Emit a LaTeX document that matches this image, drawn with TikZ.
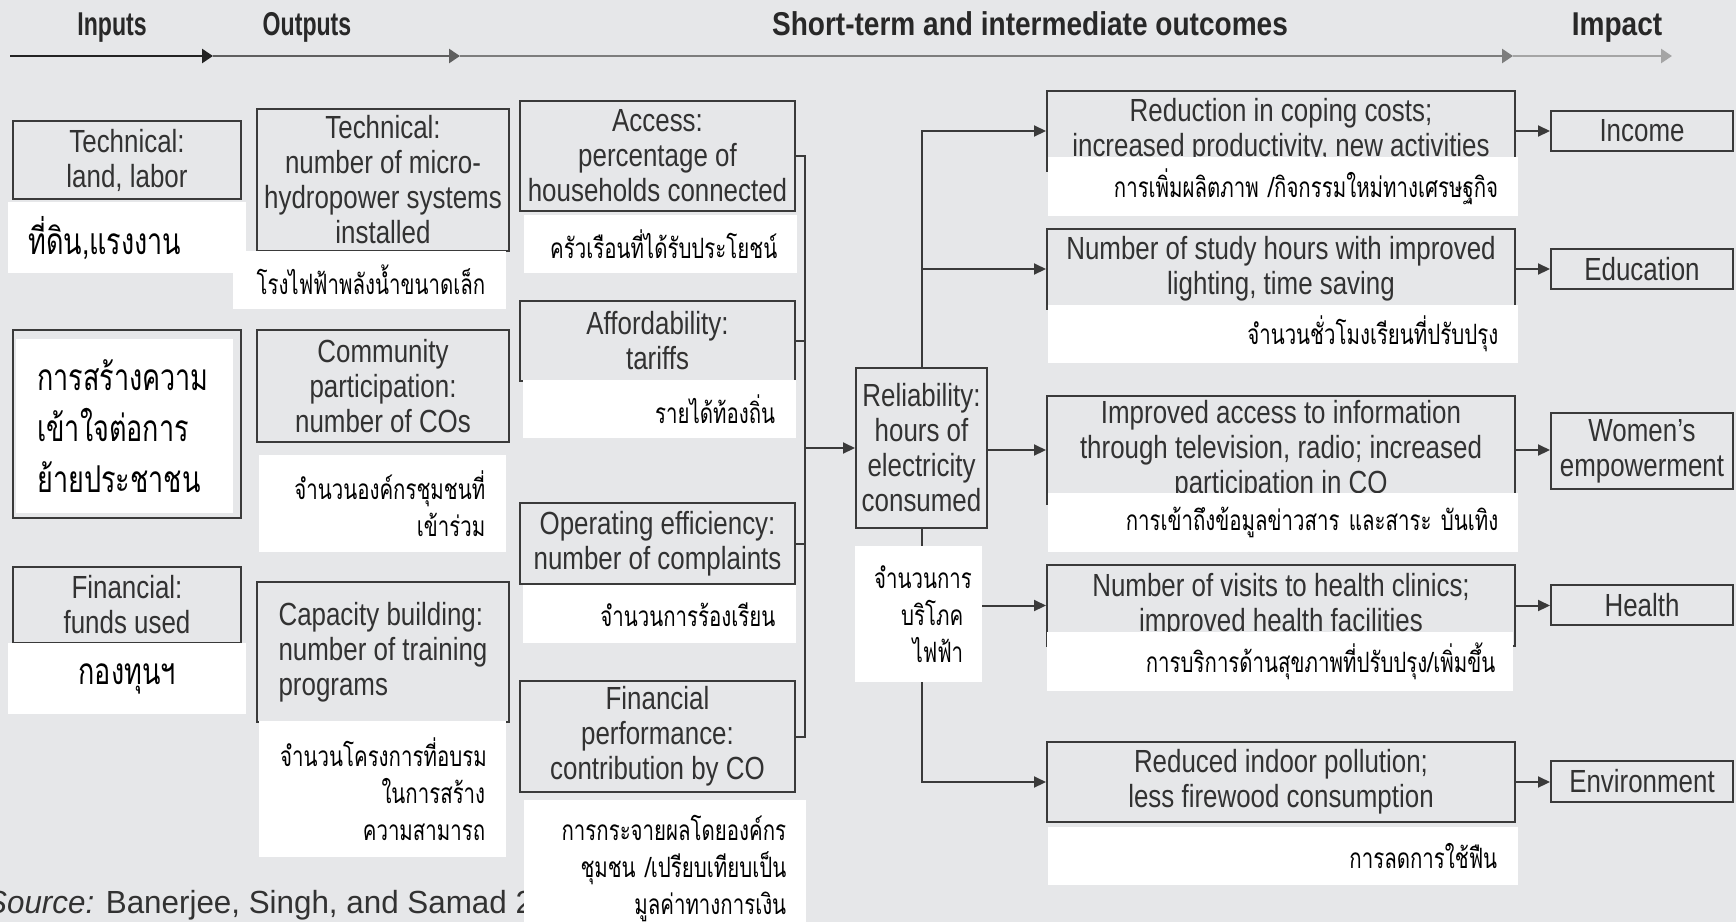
\documentclass[tikz,border=0pt]{standalone}
\usepackage{fontspec}
\usetikzlibrary{arrows.meta}
\setmainfont{Liberation Sans}[FakeStretch=0.81]
\newfontfamily\hdfont{Liberation Sans}[FakeStretch=0.85]
\newfontfamily\hdnarrow{Liberation Sans}[FakeStretch=0.70]
\newfontfamily\srcfont{Liberation Sans}[FakeStretch=0.98]
\newfontfamily\thai{Loma}[Script=Thai,FakeStretch=0.73]
\definecolor{bg}{RGB}{230,231,233}
\definecolor{bx}{RGB}{58,58,58}
\definecolor{tx}{RGB}{50,50,50}
\definecolor{hc}{RGB}{40,40,40}
\definecolor{a1c}{RGB}{35,35,35}
\definecolor{a2c}{RGB}{95,95,95}
\definecolor{a3c}{RGB}{125,125,125}
\definecolor{a4c}{RGB}{165,165,165}
\tikzset{
  hd/.style={font=\hdfont\bfseries\fontsize{33}{35}\selectfont, text=hc, inner sep=0pt, anchor=base},
  hdn/.style={hd, font=\hdnarrow\bfseries\fontsize{33}{35}\selectfont},
  hline/.style={line width=2.6pt, -{Triangle[length=11pt,width=14pt]}},
  box/.style={draw=bx, line width=2pt, inner sep=0pt, align=center, text=tx,
    font=\fontsize{32}{35}\selectfont, anchor=north west},
  wbox/.style={fill=white, draw=none, inner ysep=0pt, anchor=north west, text=black,
    font=\thai\fontsize{28}{37}\selectfont},
  wbig/.style={wbox, font=\thai\fontsize{37}{51}\selectfont},
  conn/.style={line width=2pt, draw=bx},
  arr/.style={conn, -{Triangle[length=12pt,width=11pt]}},
}
\begin{document}
\begin{tikzpicture}[x=1pt,y=-1pt]
\fill[bg] (0,0) rectangle (1736,922);
\useasboundingbox (0,0) rectangle (1736,922);
\clip (0,0) rectangle (1736,922);

% header
\node[hdn] (hin) at (112,35) {Inputs};
\node[hdn] (hout) at (307,35) {Outputs};
\node[hd] (hst) at (1030,35) {Short-term and intermediate outcomes};
\node[hd] (himp) at (1617,35) {Impact};
\coordinate (h0) at (10,56);
\coordinate (h1) at (213,56);
\coordinate (h2) at (460,56);
\coordinate (h3) at (1513,56);
\coordinate (h4) at (1672,56);
\draw[hline, draw=a1c, fill=a1c] (h0) -- (h1);
\draw[hline, draw=a2c, fill=a2c] (h1) -- (h2);
\draw[hline, draw=a3c, fill=a3c] (h2) -- (h3);
\draw[hline, draw=a4c, fill=a4c] (h3) -- (h4);

% source
\node[anchor=base west, inner sep=0pt, text=tx, font=\srcfont\fontsize{32}{35}\selectfont] (src) at (-14,913) {\textit{Source:} Banerjee, Singh, and Samad 2};

% inputs
\node[box, minimum width=228pt, minimum height=78pt] (in1) at (12,120) {Technical:\\land, labor};
\node[box, minimum width=228pt, minimum height=188pt] (in2) at (12,329) {};
\node[box, minimum width=228pt, minimum height=76pt] (in3) at (12,566) {Financial:\\funds used};

% outputs
\node[box, minimum width=252pt, minimum height=142pt] (out1) at (256,108) {Technical:\\number of micro-\\hydropower systems\\installed};
\node[box, minimum width=252pt, minimum height=112pt] (out2) at (256,329) {Community\\participation:\\number of COs};
\node[box, minimum width=252pt, minimum height=140pt, align=left] (out3) at (256,581) {Capacity building:\\number of training\\programs};

% short-term measures
\node[box, minimum width=275pt, minimum height=110pt] (acc) at (519,100) {Access:\\percentage of\\households connected};
\node[box, minimum width=275pt, minimum height=80pt] (aff) at (519,300) {Affordability:\\tariffs};
\node[box, minimum width=275pt, minimum height=81pt] (ope) at (519,502) {Operating efficiency:\\number of complaints};
\node[box, minimum width=275pt, minimum height=111pt] (fin) at (519,680) {Financial\\performance:\\contribution by CO};

\node[box, minimum width=131pt, minimum height=160pt] (rel) at (855,367) {Reliability:\\hours of\\electricity\\consumed};

% outcomes
\node[box, minimum width=468pt, minimum height=80pt] (o1) at (1046,90) {Reduction in coping costs;\\increased productivity, new activities};
\node[box, minimum width=468pt, minimum height=80pt] (o2) at (1046,228) {Number of study hours with improved\\lighting, time saving};
\node[box, minimum width=468pt, minimum height=108pt] (o3) at (1046,395) {Improved access to information\\through television, radio; increased\\participation in CO};
\node[box, minimum width=468pt, minimum height=81pt] (o4) at (1046,564) {Number of visits to health clinics;\\improved health facilities};
\node[box, minimum width=468pt, minimum height=80pt] (o5) at (1046,741) {Reduced indoor pollution;\\less firewood consumption};

% impacts
\node[box, minimum width=182pt, minimum height=40pt] (inc) at (1550,110) {Income};
\node[box, minimum width=182pt, minimum height=40pt] (edu) at (1550,248) {Education};
\node[box, minimum width=182pt, minimum height=76pt] (wom) at (1550,412) {Women’s\\empowerment};
\node[box, minimum width=182pt, minimum height=40pt] (hea) at (1550,584) {Health};
\node[box, minimum width=182pt, minimum height=41pt] (env) at (1550,760) {Environment};

% connectors
\coordinate (bus) at (805,0);
\draw[conn] (acc.east) -- (acc.east -| bus) -- (fin.east -| bus) -- (fin.east);
\draw[conn] (aff.east) -- (aff.east -| bus);
\draw[conn] (ope.east) -- (ope.east -| bus);
\draw[arr] (rel.west -| bus) -- (rel.west);
\draw[arr] (rel.north) |- (o1.west);
\draw[arr] (rel.north |- o2.west) -- (o2.west);
\draw[arr] (rel.east |- o3.west) -- (o3.west);
\draw[arr] (rel.south) |- (o5.west);
\draw[arr] (rel.south |- o4.west) -- (o4.west);
\draw[arr] (o1.east) -- (o1.east -| inc.west);
\draw[arr] (o2.east) -- (o2.east -| edu.west);
\draw[arr] (o3.east) -- (o3.east -| wom.west);
\draw[arr] (o4.east) -- (o4.east -| hea.west);
\draw[arr] (o5.east) -- (o5.east -| env.west);

% white Thai boxes
\node[wbig, minimum width=238pt, minimum height=71pt, inner xsep=20pt, text width=198pt, align=left] (win1) at (8,202) {ที่ดิน,แรงงาน};
\node[wbig, minimum width=217pt, minimum height=174pt, inner xsep=21pt, text width=175pt, align=left] (win2) at (16,339) {การสร้างความ\\เข้าใจต่อการ\\ย้ายประชาชน};
\node[wbig, minimum width=238pt, minimum height=71pt, inner xsep=10pt, text width=218pt, align=center] (win3) at (8,643) {กองทุนฯ};

\node[wbox, minimum width=273pt, minimum height=58pt, inner xsep=21pt, text width=231pt, align=right] (wout1) at (233,251) {โรงไฟฟ้าพลังน้ำขนาดเล็ก};
\node[wbox, minimum width=247pt, minimum height=97pt, inner xsep=21pt, text width=205pt, align=right] (wout2) at (259,455) {จำนวนองค์กรชุมชนที่\\เข้าร่วม};
\node[wbox, minimum width=247pt, minimum height=136pt, inner xsep=21pt, text width=205pt, align=right] (wout3) at (259,721) {จำนวนโครงการที่อบรม\\ในการสร้าง\\ความสามารถ};

\node[wbox, minimum width=273pt, minimum height=58pt, inner xsep=20pt, text width=233pt, align=right] (wacc) at (524,215) {ครัวเรือนที่ได้รับประโยชน์};
\node[wbox, minimum width=273pt, minimum height=58pt, inner xsep=21pt, text width=231pt, align=right] (waff) at (523,380) {รายได้ท้องถิ่น};
\node[wbox, minimum width=273pt, minimum height=58pt, inner xsep=21pt, text width=231pt, align=right] (wope) at (523,585) {จำนวนการร้องเรียน};
\node[wbox, minimum width=282pt, minimum height=136pt, inner xsep=20pt, text width=242pt, align=right] (wfin) at (524,800) {การกระจายผลโดยองค์กร\\ชุมชน /เปรียบเทียบเป็น\\มูลค่าทางการเงิน};

\node[wbox, minimum width=127pt, minimum height=136pt, inner xsep=19pt, text width=89pt, align=right] (wrel) at (855,546) {จำนวนการ\\บริโภค\\ไฟฟ้า};

\node[wbox, minimum width=470pt, minimum height=59pt, inner xsep=20pt, text width=430pt, align=right] (wo1) at (1048,157) {การเพิ่มผลิตภาพ /กิจกรรมใหม่ทางเศรษฐกิจ};
\node[wbox, minimum width=470pt, minimum height=58pt, inner xsep=20pt, text width=430pt, align=right] (wo2) at (1048,305) {จำนวนชั่วโมงเรียนที่ปรับปรุง};
\node[wbox, minimum width=470pt, minimum height=59pt, inner xsep=20pt, text width=430pt, align=right] (wo3) at (1048,493) {การเข้าถึงข้อมูลข่าวสาร และสาระ บันเทิง};
\node[wbox, minimum width=466pt, minimum height=59pt, inner xsep=18pt, text width=430pt, align=right] (wo4) at (1047,632) {การบริการด้านสุขภาพที่ปรับปรุง/เพิ่มขึ้น};
\node[wbox, minimum width=470pt, minimum height=58pt, inner xsep=21pt, text width=428pt, align=right] (wo5) at (1048,827) {การลดการใช้ฟืน};
\end{tikzpicture}
\end{document}
